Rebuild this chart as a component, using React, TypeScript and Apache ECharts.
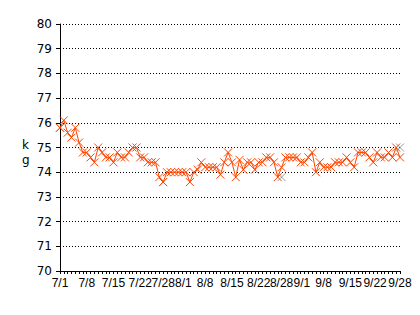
import React, { useEffect, useRef } from "react";
import * as echarts from "echarts";

// Categories: every day from 7/1 to 9/28
const months = [7, 8, 9];
const lastDays = [31, 31, 28];
const categories: string[] = [];
months.forEach((m, k) => {
  for (let d = 1; d <= lastDays[k]; d++) categories.push(`${m}/${d}`);
});

// Tick labels shown on the x axis
const tickLabels = [
  "7/1", "7/8", "7/15", "7/22", "7/28",
  "8/1", "8/8", "8/15", "8/22", "8/28",
  "9/1", "9/8", "9/15", "9/22", "9/28",
];

// Daily weight (kg)
const weights = [
  75.8, 76.1, 75.6, 75.4, 75.8, 75.2, 74.8, 74.8, 74.6, 74.4,
  75.0, 74.8, 74.6, 74.6, 74.4, 74.8, 74.6, 74.6, 74.8, 75.0,
  75.0, 74.6, 74.6, 74.4, 74.4, 74.4, 73.8, 73.6, 74.0, 74.0,
  74.0, 74.0, 74.0, 74.0, 73.6, 74.0, 74.1, 74.4, 74.2, 74.2,
  74.2, 74.2, 73.9, 74.4, 74.8, 74.4, 73.8, 74.5, 74.1, 74.4,
  74.4, 74.1, 74.4, 74.4, 74.6, 74.6, 74.4, 73.8, 74.2, 74.6,
  74.6, 74.6, 74.6, 74.4, 74.4, 74.6, 74.8, 74.0, 74.4, 74.2,
  74.2, 74.2, 74.4, 74.4, 74.4, 74.6, 74.4, 74.2, 74.8, 74.8,
  74.8, 74.6, 74.4, 74.8, 74.6, 74.6, 74.8, 74.6, 75.0, 74.6,
];

// Gray marked points
const grayDates = ["7/1", "7/28", "8/28", "9/28"];
const grayValues = [75.8, 73.6, 73.8, 75.0];

const xMark = "path://M0,0L10,10M10,0L0,10";

export default function App() {
  const ref = useRef<HTMLDivElement>(null);
  useEffect(() => {
    if (!ref.current) return;
    const chart = echarts.init(ref.current, undefined, { renderer: "svg" });
    const font = "DejaVu Sans";
    const xFont = "Liberation Sans";
    const base = { fontSize: 12, fontFamily: xFont, color: "#000" };
    chart.setOption({
      animation: false,
      backgroundColor: "#fff",
      textStyle: { fontFamily: font },
      grid: { left: 60, right: 20, top: 24, bottom: 44, containLabel: false },
      graphic: [
        {
          type: "text",
          left: 22,
          top: 137,
          style: { text: "k\ng", fontSize: 12, lineHeight: 15, fill: "#000", fontFamily: font },
        },
      ],
      xAxis: {
        type: "category",
        data: categories,
        boundaryGap: false,
        axisLine: { lineStyle: { color: "#000", width: 1 } },
        axisTick: { interval: 0, length: 3, lineStyle: { color: "#000" } },
        axisLabel: {
          interval: (_i: number, v: string) => tickLabels.includes(v),
          showMinLabel: true,
          showMaxLabel: true,
          hideOverlap: false,
          color: "#000",
          fontSize: 12,
          fontFamily: xFont,
          margin: 6,
          formatter: (v: string) => {
            if (v === "9/22") return `{l|${v}}`;
            if (v === "8/1" || v === "9/1") return `{r|${v}}`;
            return `{n|${v}}`;
          },
          rich: {
            n: { ...base },
            l: { ...base, padding: [0, 4, 0, 0] },
            r: { ...base, padding: [0, 0, 0, 10] },
          },
        },
        splitLine: { show: false },
      },
      yAxis: {
        type: "value",
        min: 70,
        max: 80,
        interval: 1,
        axisLine: { show: true, lineStyle: { color: "#000", width: 1 } },
        axisTick: { show: true, length: 4, lineStyle: { color: "#000" } },
        axisLabel: { color: "#000", fontSize: 12, fontFamily: font, margin: 8 },
        splitLine: { show: true, lineStyle: { color: "#000", type: [1, 2], width: 1 } },
      },
      series: [
        {
          type: "line",
          data: weights,
          symbol: xMark,
          symbolSize: 8,
          showAllSymbol: true,
          lineStyle: { color: "#FF4500", width: 1 },
          itemStyle: { color: "#FF4500", borderColor: "#FF4500", borderWidth: 1 },
        },
        {
          type: "scatter",
          data: grayDates.map((d, i) => [d, grayValues[i]]),
          symbol: xMark,
          symbolSize: 8,
          itemStyle: { color: "#808080", borderColor: "#808080", borderWidth: 1 },
        },
      ],
    });
    return () => chart.dispose();
  }, []);
  return (
    <div
      ref={ref}
      style={{ position: "fixed", left: 0, top: 0, width: 420, height: 315, background: "#fff" }}
    />
  );
}
